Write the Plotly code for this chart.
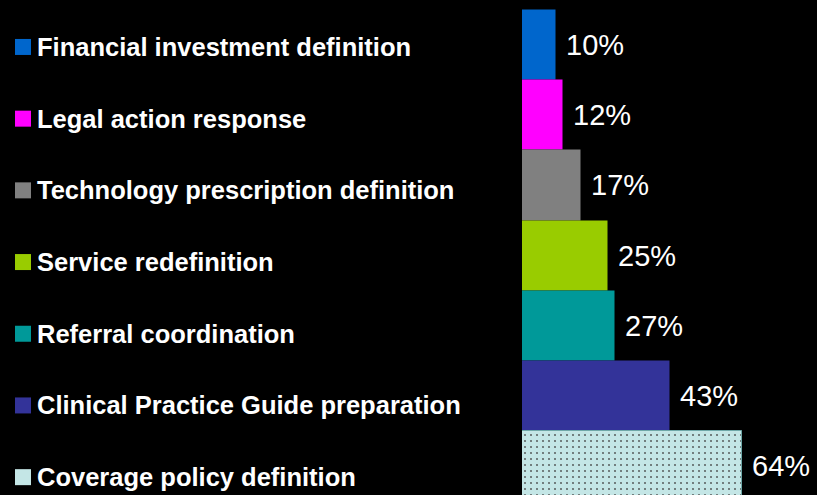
import plotly.graph_objects as go

# categories, top to bottom
categories = [
    "Financial investment definition",
    "Legal action response",
    "Technology prescription definition",
    "Service redefinition",
    "Referral coordination",
    "Clinical Practice Guide preparation",
    "Coverage policy definition",
]
percentages = [10, 12, 17, 25, 27, 43, 64]
colors = ["#0066CC", "#FF00FF", "#808080", "#99CC00", "#009999", "#333399", "#C4E6E6"]
pct_labels = [f"{v}%" for v in percentages]

W, H = 817, 495
bar_left = 522

fig = go.Figure()

# bars (last one dotted like the original)
patterns = [""] * 6 + ["."]
fig.add_trace(go.Bar(
    y=categories,
    x=percentages,
    orientation="h",
    marker=dict(
        color=colors,
        line=dict(color=["rgba(0,0,0,0)"] * 6 + ["#6FA8A8"], width=1),
        pattern=dict(shape=patterns, fgcolor="#E2BFCC", fgopacity=0.8,
                     bgcolor="#C4E6E6", size=6, solidity=0.1),
    ),
    showlegend=False,
    hoverinfo="skip",
))

# percent labels to the right of each bar
for cat, v, lab in zip(categories, percentages, pct_labels):
    fig.add_annotation(
        x=v, y=cat, xref="x", yref="y", text=lab, showarrow=False,
        xanchor="left", xshift=8,
        font=dict(family="Liberation Sans, Arial, sans-serif", size=29, color="white"),
    )

# left "legend" column: square markers + labels on their own axes
fig.add_trace(go.Scatter(
    x=[23] * len(categories),
    y=categories,
    xaxis="x2", yaxis="y2",
    mode="markers",
    marker=dict(symbol="square", size=16, color=colors,
                line=dict(width=0)),
    showlegend=False,
    hoverinfo="skip",
))
for cat in categories:
    fig.add_annotation(
        x=35, y=cat, xref="x2", yref="y2", text=f"<b>{cat}</b>", showarrow=False,
        xanchor="left",
        font=dict(family="Liberation Sans, Arial, sans-serif", size=25.5, color="white"),
    )

fig.update_layout(
    width=W, height=H,
    margin=dict(l=0, r=0, t=0, b=0),
    paper_bgcolor="black",
    plot_bgcolor="black",
    bargap=0,
    xaxis=dict(domain=[bar_left / W, 1], range=[0, 85.7], visible=False, fixedrange=True),
    yaxis=dict(range=[6.409, -0.642], visible=False, fixedrange=True),
    xaxis2=dict(domain=[0, bar_left / W], range=[0, bar_left], visible=False,
                anchor="y2"),
    yaxis2=dict(range=[6.249, -0.655], visible=False, anchor="x2", domain=[0, 1]),
)

fig.write_html(
    "out.html",
    config={"displayModeBar": False},
    post_script="document.body.style.margin='0';document.body.style.background='black';",
)
